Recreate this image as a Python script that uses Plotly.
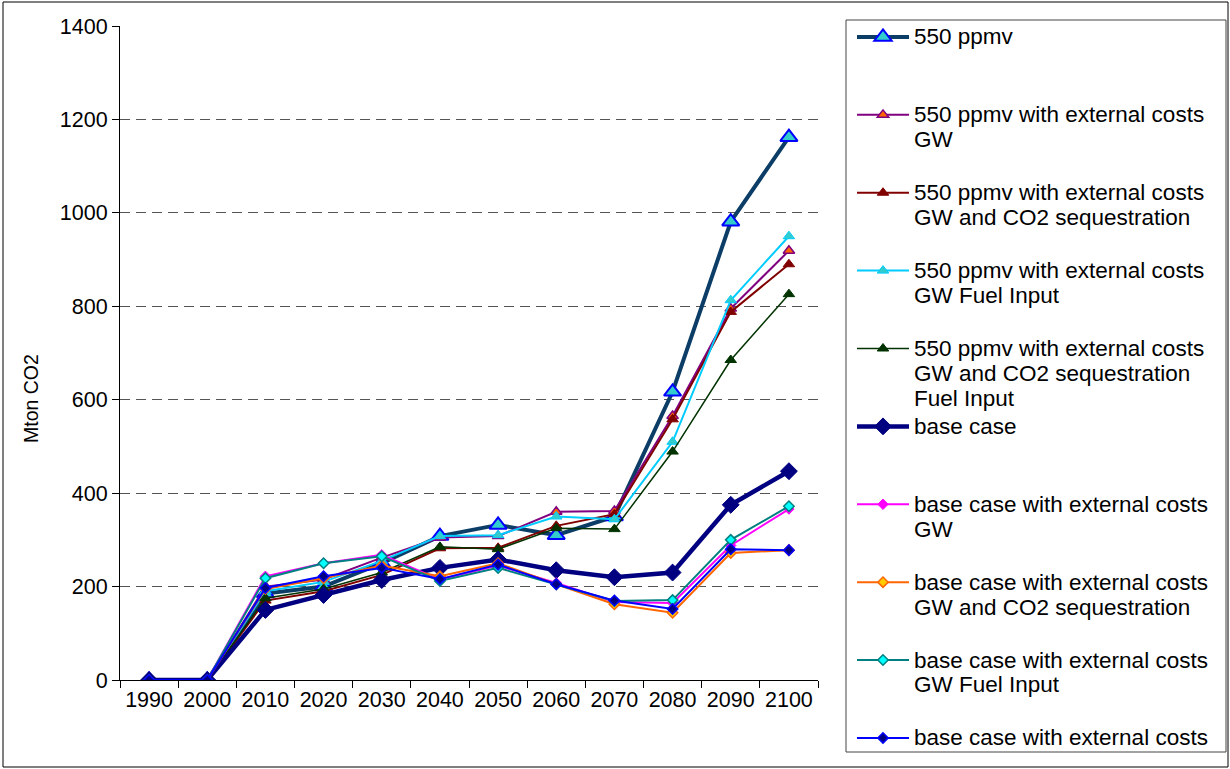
import plotly.graph_objects as go

years = ["1990", "2000", "2010", "2020", "2030", "2040", "2050", "2060", "2070", "2080", "2090", "2100"]

ppmv550 = [0, 0, 185, 200, 250, 308, 332, 310, 350, 617, 981, 1162]
ppmv550_gw = [0, 0, 200, 215, 262, 305, 308, 360, 362, 565, 795, 919]
ppmv550_gw_co2 = [0, 0, 170, 190, 225, 282, 283, 330, 355, 558, 788, 890]
ppmv550_gw_fuel = [0, 0, 190, 210, 255, 308, 310, 350, 344, 510, 813, 950]
ppmv550_gw_co2_fuel = [0, 0, 175, 195, 230, 285, 280, 325, 323, 489, 685, 826]
base = [0, 0, 150, 182, 214, 240, 258, 235, 220, 230, 375, 447]
base_gw = [0, 0, 222, 250, 268, 215, 245, 208, 167, 165, 288, 366]
base_gw_co2 = [0, 0, 195, 218, 245, 222, 250, 205, 162, 144, 272, 278]
base_gw_fuel = [0, 0, 218, 250, 265, 212, 240, 205, 169, 171, 300, 372]
base_ext = [0, 0, 197, 222, 240, 216, 247, 205, 170, 152, 280, 278]

legend_lines = [
    ["550 ppmv", "\u00a0", "\u00a0"],
    ["550 ppmv with external costs", "GW", "\u00a0"],
    ["550 ppmv with external costs", "GW and CO2 sequestration", "\u00a0"],
    ["550 ppmv with external costs", "GW Fuel Input", "\u00a0"],
    ["550 ppmv with external costs", "GW and CO2 sequestration", "Fuel Input"],
    ["base case", "\u00a0", "\u00a0"],
    ["base case with external costs", "GW", "\u00a0"],
    ["base case with external costs", "GW and CO2 sequestration", "\u00a0"],
    ["base case with external costs", "GW Fuel Input", "\u00a0"],
    ["base case with external costs"],
]

y_title = "Mton CO2"

series = [
    (ppmv550, dict(color="#0B3D66", width=4), dict(symbol="triangle-up", size=15, color="#33CCCC", line=dict(color="#0000FF", width=2))),
    (ppmv550_gw, dict(color="#800080", width=2), dict(symbol="triangle-up", size=10, color="#FF6600", line=dict(color="#800080", width=1.5))),
    (ppmv550_gw_co2, dict(color="#800000", width=2), dict(symbol="triangle-up", size=10, color="#800000", line=dict(color="#800000", width=1))),
    (ppmv550_gw_fuel, dict(color="#00CCFF", width=2), dict(symbol="triangle-up", size=10, color="#33CCCC", line=dict(color="#00CCFF", width=1))),
    (ppmv550_gw_co2_fuel, dict(color="#003300", width=1.5), dict(symbol="triangle-up", size=10, color="#003300", line=dict(color="#003300", width=1))),
    (base, dict(color="#000080", width=4.5), dict(symbol="diamond", size=13, color="#000080", line=dict(color="#000080", width=1))),
    (base_gw, dict(color="#FF00FF", width=2), dict(symbol="diamond", size=8, color="#FF00FF", line=dict(color="#FF00FF", width=1))),
    (base_gw_co2, dict(color="#FF6600", width=2), dict(symbol="diamond", size=8, color="#FFCC00", line=dict(color="#FF6600", width=1.5))),
    (base_gw_fuel, dict(color="#008080", width=2), dict(symbol="diamond", size=8, color="#00FFFF", line=dict(color="#008080", width=1.5))),
    (base_ext, dict(color="#0000FF", width=2), dict(symbol="diamond", size=8, color="#000080", line=dict(color="#0000FF", width=1.5))),
]

W, H = 1230, 769
def px_x(p):
    return p / W
def px_y(p):
    return (H - p) / H

fig = go.Figure()
for (vals, line, marker), lines in zip(series, legend_lines):
    label = "<br>".join('<span style="font-size:22.5px">%s</span>' % t for t in lines)
    fig.add_trace(go.Scatter(x=years, y=vals, mode="lines+markers", name=label,
                             line=line, marker=marker))

fig.update_layout(
    width=W, height=H,
    margin=dict(l=0, r=0, t=0, b=0, autoexpand=False),
    paper_bgcolor="white", plot_bgcolor="white",
    font=dict(family="Liberation Sans, Arial, sans-serif", color="black", size=20),
    showlegend=True,
    legend=dict(x=px_x(852), y=px_y(18), xanchor="left", yanchor="top",
                font=dict(size=19.2), valign="top", itemwidth=52,
                bgcolor="rgba(0,0,0,0)", borderwidth=0, tracegroupgap=0),
    xaxis=dict(domain=[px_x(120), px_x(818)], type="category", range=[-0.5, 11.5],
               showline=True, linecolor="black", linewidth=1,
               ticks="outside", tickson="boundaries", ticklen=7, tickcolor="black",
               showgrid=False, tickfont=dict(size=21.5), zeroline=False, automargin=False),
    yaxis=dict(domain=[px_y(680), px_y(26)], range=[0, 1400], dtick=200,
               showline=True, linecolor="black", linewidth=1,
               ticks="outside", ticklen=7, tickcolor="black",
               showgrid=True, gridcolor="#555555", griddash="10px,6px", gridwidth=1,
               zeroline=False, tickfont=dict(size=21.5), automargin=False),
    annotations=[
        dict(text=y_title, xref="paper", yref="paper", x=px_x(31), y=px_y(399),
             xanchor="center", yanchor="middle", textangle=-90, showarrow=False,
             font=dict(size=19.5)),
    ],
    shapes=[
        dict(type="rect", xref="paper", yref="paper", x0=px_x(846), x1=px_x(1226),
             y0=px_y(752), y1=px_y(20), line=dict(color="#444444", width=1)),
        dict(type="rect", xref="paper", yref="paper", x0=px_x(3), x1=px_x(1228),
             y0=px_y(767), y1=px_y(2), line=dict(color="black", width=1)),
    ],
)

fig.write_html("out.html", config={"displayModeBar": False},
               post_script="document.body.style.margin='0';document.body.style.padding='0';")
